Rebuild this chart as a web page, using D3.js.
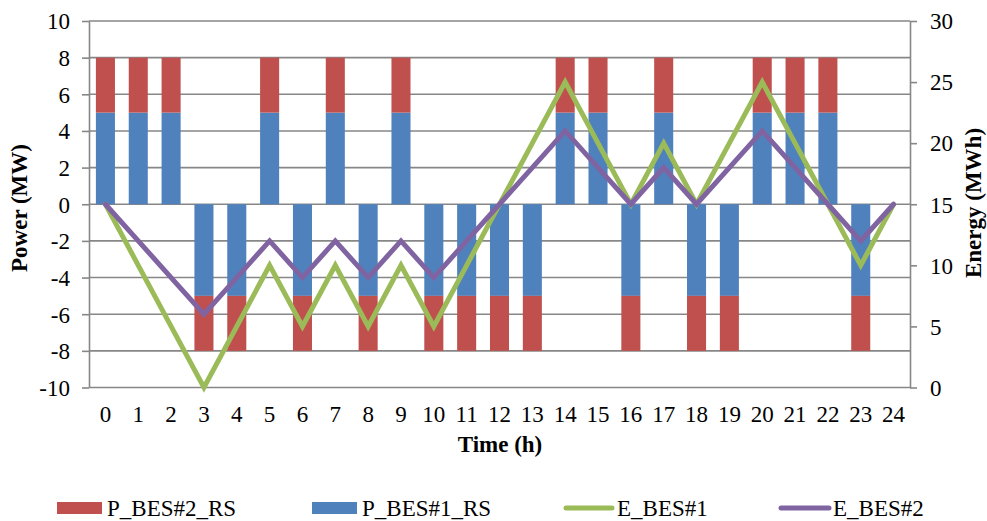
<!DOCTYPE html>
<html>
<head>
<meta charset="utf-8">
<script src="https://cdn.jsdelivr.net/npm/d3@7"></script>
<style>
  html, body { margin: 0; padding: 0; background: #fff; }
  svg text { font-family: "Liberation Serif", "Times New Roman", "DejaVu Serif", serif; }
</style>
</head>
<body>
<svg id="chart" width="987" height="521"></svg>
<script>
// Hours of the day (bar categories and line points)
const hours = d3.range(0, 25);
// Power of BES#1 in reserve service (MW), hours 0..23
const pBes1 = [5, 5, 5, -5, -5, 5, -5, 5, -5, 5, -5, -5, -5, -5, 5, 5, -5, 5, -5, -5, 5, 5, 5, -5];
// Power of BES#2 in reserve service (MW), stacked on BES#1
const pBes2 = [3, 3, 3, -3, -3, 3, -3, 3, -3, 3, -3, -3, -3, -3, 3, 3, -3, 3, -3, -3, 3, 3, 3, -3];
// Stored energy (MWh), hours 0..24
const eBes1 = [15, 10, 5, 0, 5, 10, 5, 10, 5, 10, 5, 10, 15, 20, 25, 20, 15, 20, 15, 20, 25, 20, 15, 10, 15];
const eBes2 = [15, 12, 9, 6, 9, 12, 9, 12, 9, 12, 9, 12, 15, 18, 21, 18, 15, 18, 15, 18, 21, 18, 15, 12, 15];
// Axis ticks
const powerTicks = d3.range(-10, 11, 2);
const energyTicks = d3.range(0, 31, 5);

const colors = { p2: "#C0504D", p1: "#4F81BD", e1: "#9BBB59", e2: "#8064A2" };
const gridColor = "#878787";
const fontSize = 23;
const serif = "'Liberation Serif', 'Times New Roman', 'DejaVu Serif', serif";

const svg = d3.select("#chart");
const plotLeft = 89, plotRight = 910, plotTop = 21, plotBottom = 387.5;

const x = d3.scaleBand().domain(hours).range([plotLeft, plotRight]).paddingInner(0.42).paddingOuter(0.21);
const yP = d3.scaleLinear().domain([-10, 10]).range([plotBottom, plotTop]);
const yE = d3.scaleLinear().domain([0, 30]).range([plotBottom, plotTop]);
const cx = h => x(h) + x.bandwidth() / 2;

// Horizontal gridlines
svg.append("g").selectAll("line").data(powerTicks).join("line")
  .attr("x1", plotLeft).attr("x2", plotRight)
  .attr("y1", d => yP(d)).attr("y2", d => yP(d))
  .attr("stroke", gridColor).attr("stroke-width", 1.6);

// Stacked bars: BES#1 from zero, BES#2 on top of it
const bars = svg.append("g");
bars.selectAll("rect.p1").data(pBes1).join("rect").attr("class", "p1")
  .attr("x", (d, i) => x(hours[i])).attr("width", x.bandwidth())
  .attr("y", d => yP(Math.max(0, d))).attr("height", d => Math.abs(yP(d) - yP(0)))
  .attr("fill", colors.p1);
bars.selectAll("rect.p2").data(pBes2).join("rect").attr("class", "p2")
  .attr("x", (d, i) => x(hours[i])).attr("width", x.bandwidth())
  .attr("y", (d, i) => Math.min(yP(pBes1[i]), yP(pBes1[i] + d)))
  .attr("height", (d, i) => Math.abs(yP(pBes1[i] + d) - yP(pBes1[i])))
  .attr("fill", colors.p2);

// Energy lines on the secondary axis
const line = d3.line().x((d, i) => cx(hours[i])).y(d => yE(d));
svg.append("path").datum(eBes1).attr("d", line)
  .attr("fill", "none").attr("stroke", colors.e1).attr("stroke-width", 5)
  .attr("stroke-linejoin", "miter").attr("stroke-linecap", "round");
svg.append("path").datum(eBes2).attr("d", line)
  .attr("fill", "none").attr("stroke", colors.e2).attr("stroke-width", 5)
  .attr("stroke-linejoin", "miter").attr("stroke-linecap", "round");

// Axes
function styleAxis(g) {
  g.attr("font-family", serif).attr("font-size", fontSize);
  g.selectAll("path.domain").attr("stroke", gridColor).attr("stroke-width", 1.6);
  g.selectAll(".tick line").attr("stroke", gridColor).attr("stroke-width", 1.6);
  g.selectAll(".tick text").attr("fill", "#000").attr("dy", "0.34em");
}
const plainNumber = d => String(d);
svg.append("g").attr("transform", `translate(${plotLeft},0)`)
  .call(d3.axisLeft(yP).tickValues(powerTicks).tickFormat(plainNumber)
    .tickSize(7).tickSizeOuter(0).tickPadding(12))
  .call(styleAxis);
svg.append("g").attr("transform", `translate(${plotRight},0)`)
  .call(d3.axisRight(yE).tickValues(energyTicks).tickFormat(plainNumber)
    .tickSize(7).tickSizeOuter(0).tickPadding(13))
  .call(styleAxis);

// Hour labels along the bottom
svg.append("g").attr("font-family", serif).attr("font-size", fontSize)
  .selectAll("text").data(hours).join("text")
  .attr("x", h => cx(h)).attr("y", 421.5)
  .attr("text-anchor", "middle")
  .text(h => h);

// Axis titles
const titles = svg.append("g").attr("font-family", serif).attr("font-size", fontSize).attr("font-weight", "bold");
titles.append("text").attr("x", 500).attr("y", 452)
  .attr("text-anchor", "middle").text("Time (h)");
titles.append("text").attr("transform", "translate(27,208) rotate(-90)")
  .attr("text-anchor", "middle").text("Power (MW)");
titles.append("text").attr("transform", "translate(981,203) rotate(-90)")
  .attr("text-anchor", "middle").text("Energy (MWh)");

// Legend
const legendItems = [
  { label: "P_BES#2_RS", color: colors.p2, type: "rect", x0: 57, x1: 102, tx: 107 },
  { label: "P_BES#1_RS", color: colors.p1, type: "rect", x0: 312, x1: 357, tx: 362 },
  { label: "E_BES#1", color: colors.e1, type: "line", x0: 566, x1: 612, tx: 617 },
  { label: "E_BES#2", color: colors.e2, type: "line", x0: 781, x1: 829, tx: 833 }
];
const legend = svg.append("g").attr("font-family", serif).attr("font-size", fontSize);
legendItems.forEach(it => {
  if (it.type === "rect") {
    legend.append("rect").attr("x", it.x0).attr("y", 502).attr("width", it.x1 - it.x0).attr("height", 12)
      .attr("fill", it.color);
  } else {
    legend.append("line").attr("x1", it.x0).attr("x2", it.x1).attr("y1", 508).attr("y2", 508)
      .attr("stroke", it.color).attr("stroke-width", 5).attr("stroke-linecap", "round");
  }
  legend.append("text").attr("x", it.tx).attr("y", 516).text(it.label);
});
</script>
</body>
</html>
